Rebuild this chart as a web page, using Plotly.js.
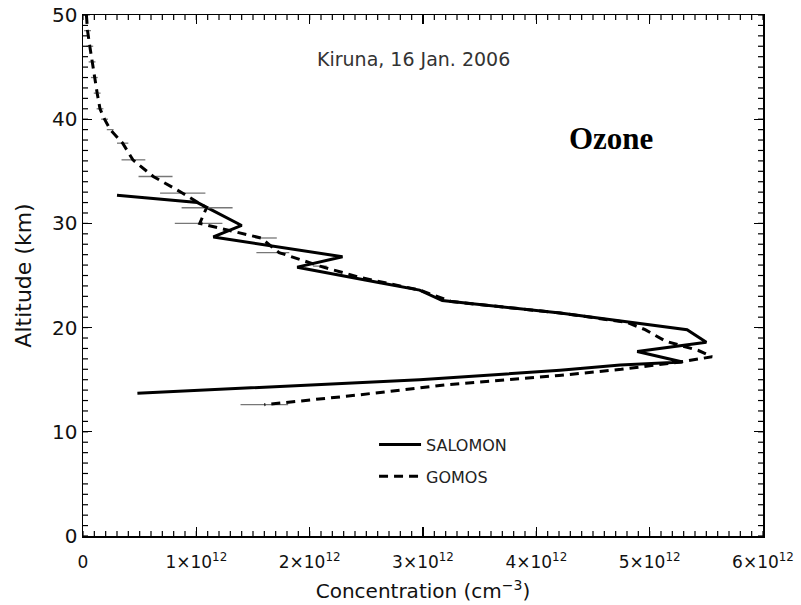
<!DOCTYPE html>
<html>
<head>
<meta charset="utf-8">
<script src="https://cdn.plot.ly/plotly-3.0.1.min.js"></script>
<style>html,body{margin:0;padding:0;background:#fff;}#chart{width:801px;height:605px;}</style>
</head>
<body>
<div id="chart"></div>
<script>
// SALOMON profile (concentration in units of 1e12 cm^-3, altitude km)
const salomonAlt  = [32.7, 32.0, 29.8, 28.7, 26.8, 25.8, 24.3, 23.6, 22.6, 21.4, 19.8, 18.6, 17.7, 16.7, 16.4, 15.9, 15.0, 13.7];
const salomonConc = [0.30, 1.01, 1.40, 1.15, 2.29, 1.89, 2.62, 2.97, 3.17, 4.21, 5.33, 5.50, 4.89, 5.29, 4.74, 4.21, 2.97, 0.48];

// GOMOS profile
const gomosAlt  = [50.0, 48.5, 47.0, 45.5, 44.0, 42.5, 41.0, 40.0, 39.0, 37.7, 36.1, 34.5, 32.9, 31.5, 30.0, 28.6, 27.2, 25.9, 24.8, 23.6, 22.5, 21.4, 20.5, 19.8, 18.7, 17.8, 17.2, 16.7, 16.0, 15.4, 14.5, 13.5, 12.6];
const gomosConc = [0.03, 0.04, 0.06, 0.08, 0.10, 0.125, 0.15, 0.19, 0.24, 0.35, 0.44, 0.62, 0.88, 1.09, 1.03, 1.57, 1.73, 2.09, 2.45, 2.97, 3.25, 4.21, 4.80, 4.96, 5.14, 5.43, 5.55, 5.27, 4.75, 4.20, 3.20, 2.40, 1.60];
const gomosErrPlus  = [0.03, 0.03, 0.03, 0.03, 0.03, 0.03, 0.03, 0.03, 0.03, 0.05, 0.11, 0.17, 0.20, 0.23, 0.20, 0.14, 0.09, 0.06, 0, 0, 0, 0, 0, 0, 0, 0, 0, 0, 0, 0, 0, 0, 0.21];
const gomosErrMinus = [0.03, 0.03, 0.03, 0.03, 0.03, 0.03, 0.03, 0.03, 0.03, 0.05, 0.10, 0.13, 0.20, 0.22, 0.22, 0.00, 0.20, 0.06, 0, 0, 0, 0, 0, 0, 0, 0, 0, 0, 0, 0, 0, 0, 0.21];

// axis tick positions (concentration in 1e12, altitude in km)
const xMajorTicks = [0, 1, 2, 3, 4, 5, 6];
const xTickText = ['0', '1×10<sup>12</sup>', '2×10<sup>12</sup>', '3×10<sup>12</sup>', '4×10<sup>12</sup>', '5×10<sup>12</sup>', '6×10<sup>12</sup>'];
const xMinorTicks = Array.from({length: 61}, (_, i) => i / 10);
const yMajorTicks = [0, 10, 20, 30, 40, 50];
const yMinorTicks = Array.from({length: 51}, (_, i) => i);

const E12 = 1e12;
const font = 'DejaVu Sans, Verdana, sans-serif';

const plotW = 801 - 83 - 38, plotH = 605 - 15 - 69;
const minorLen = 5;
const tickLine = {color: '#000', width: 1.2};

// minor ticks on all four sides of the frame, placed on the data axes
const minorShapes = [];
xMinorTicks.forEach(v => {
  minorShapes.push({type: 'line', xref: 'x', yref: 'paper', x0: v * E12, x1: v * E12, y0: 0, y1: minorLen / plotH, line: tickLine});
  minorShapes.push({type: 'line', xref: 'x', yref: 'paper', x0: v * E12, x1: v * E12, y0: 1 - minorLen / plotH, y1: 1, line: tickLine});
});
yMinorTicks.forEach(v => {
  minorShapes.push({type: 'line', xref: 'paper', yref: 'y', x0: 0, x1: minorLen / plotW, y0: v, y1: v, line: tickLine});
  minorShapes.push({type: 'line', xref: 'paper', yref: 'y', x0: 1 - minorLen / plotW, x1: 1, y0: v, y1: v, line: tickLine});
});

const traces = [
  {
    x: salomonConc.map(v => v * E12), y: salomonAlt,
    type: 'scatter', mode: 'lines', name: 'SALOMON', legendgroup: 'a',
    line: {color: '#000', width: 3}
  },
  {
    x: gomosConc.map(v => v * E12), y: gomosAlt,
    type: 'scatter', mode: 'lines', name: 'GOMOS', legendgroup: 'b',
    line: {color: '#000', width: 3, dash: '9px,6px'},
    error_x: {
      type: 'data', symmetric: false,
      array: gomosErrPlus.map(v => v * E12),
      arrayminus: gomosErrMinus.map(v => v * E12),
      color: '#777', thickness: 1.3, width: 0
    }
  }
];

const layout = {
  width: 801, height: 605,
  margin: {l: 83, r: 38, t: 15, b: 69},
  paper_bgcolor: '#fff', plot_bgcolor: '#fff',
  showlegend: true,
  legend: {
    x: 0.428, y: 0.208, xanchor: 'left', yanchor: 'top',
    bgcolor: 'rgba(0,0,0,0)', borderwidth: 0,
    font: {family: font, size: 16, color: '#222'},
    tracegroupgap: 8, itemwidth: 42
  },
  xaxis: {
    range: [0, 6 * E12], tickmode: 'array',
    tickvals: xMajorTicks.map(v => v * E12), ticktext: xTickText,
    showgrid: false, zeroline: false, showline: true, linecolor: '#000', linewidth: 1.5,
    mirror: 'ticks', ticks: 'inside', ticklen: 9, tickwidth: 1.3, tickcolor: '#000',
    ticklabelstandoff: 10,
    tickfont: {family: font, size: 17, color: '#111'},
    title: {text: 'Concentration (cm<sup>−3</sup>)', font: {family: font, size: 20, color: '#111'}, standoff: 13}
  },
  yaxis: {
    range: [0, 50], tickmode: 'array', tickvals: yMajorTicks,
    showgrid: false, zeroline: false, showline: true, linecolor: '#000', linewidth: 1.5,
    mirror: 'ticks', ticks: 'inside', ticklen: 9, tickwidth: 1.3, tickcolor: '#000',
    tickfont: {family: font, size: 20, color: '#111'},
    title: {text: 'Altitude (km)', font: {family: font, size: 22, color: '#111'}, standoff: 14}
  },
  shapes: minorShapes,
  annotations: [
    {text: 'Kiruna, 16 Jan. 2006', xref: 'paper', yref: 'paper', x: 0.486, y: 0.915,
     xanchor: 'center', yanchor: 'middle', showarrow: false,
     font: {family: font, size: 19, color: '#333'}},
    {text: '<b>Ozone</b>', xref: 'paper', yref: 'paper', x: 0.777, y: 0.762,
     xanchor: 'center', yanchor: 'middle', showarrow: false,
     font: {family: 'Liberation Serif, Times New Roman, serif', size: 31, color: '#000'}}
  ]
};

Plotly.newPlot('chart', traces, layout, {displayModeBar: false, staticPlot: true});
</script>
</body>
</html>
